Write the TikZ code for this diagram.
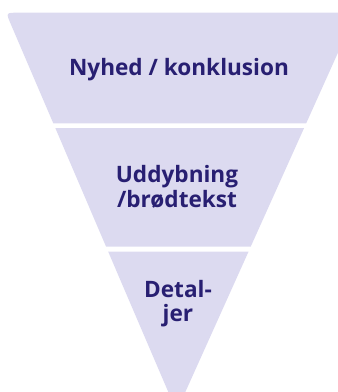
\documentclass[tikz,border=0pt]{standalone}
\usepackage{fontspec}
\setmainfont{Open Sans}
\usepackage{tikz}
\usetikzlibrary{calc,positioning}
\definecolor{funnelfill}{RGB}{220,218,240}
\definecolor{funneltext}{RGB}{40,31,114}
\tikzset{%
	band/.style     = {fill=funnelfill, draw=none},
	bandtext/.style = {text=funneltext, font=\fontsize{22.6}{24.5}\selectfont\bfseries, align=center, inner sep=0pt},
}

\begin{document}
\begin{tikzpicture}[x=1pt,y=-1pt]
	\useasboundingbox (0,0) rectangle (338,392);
	\clip (0,0) rectangle (338,392);
	% three bands of the funnel
	\fill[band] (53.3,123.3) -- (10.6,23.7) .. controls (5.9,12.7) .. (17.9,12.7) -- (356,12.7) -- (306.2,123.3) -- cycle;
	\fill[band] (55.3,128) -- (304.1,128) -- (250.7,246.7) -- (106.1,246.7) -- cycle;
	\fill[band] (108.2,251.7) -- (248.5,251.7) -- (176.6,411.4) -- cycle;
	% texts
	\node[bandtext] (nyhed) at (179,69.5) {Nyhed / konklusion};
	\node[bandtext] (uddyb) at (177,187) {Uddybning\\/brødtekst};
	\node[bandtext] (detal) at (178,303.5) {Detal-\\jer};
\end{tikzpicture}
\end{document}
